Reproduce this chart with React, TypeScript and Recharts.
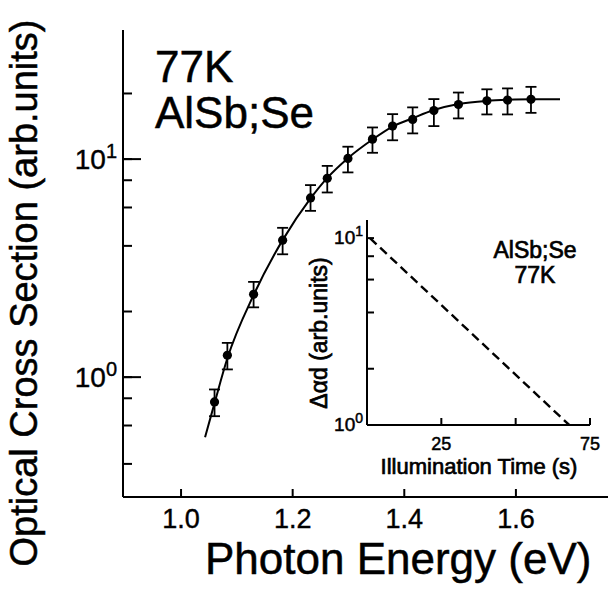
import React from 'react';
import { ComposedChart, Line, Scatter, XAxis, YAxis, ErrorBar, Customized } from 'recharts';

if (typeof document !== 'undefined') {
  document.body.style.margin = '0';
  document.body.style.overflow = 'hidden';
}

const FONT = '"Liberation Sans", Arial, Helvetica, sans-serif';

// Main plot: measured points (photon energy, eV / optical cross section, arb. units)
const energy = [1.06, 1.083, 1.13, 1.182, 1.232, 1.262, 1.299, 1.343, 1.379, 1.415, 1.453, 1.497, 1.548, 1.585, 1.627];
const cross = [0.77, 1.26, 2.4, 4.25, 6.64, 8.16, 10.07, 12.35, 14.17, 15.2, 16.7, 17.8, 18.5, 18.65, 18.8];
const crossLow = [0.662, 1.085, 2.09, 3.66, 5.79, 7.03, 8.69, 10.69, 12.2, 13.12, 14.17, 15.37, 16.03, 16.03, 16.3];
const crossHigh = [0.878, 1.436, 2.735, 4.84, 7.6, 9.31, 11.4, 13.97, 16.08, 17.27, 18.85, 20.2, 20.9, 21.1, 21.45];

// Main plot: fitted curve
const fitEnergy = [1.043, 1.06, 1.083, 1.13, 1.182, 1.232, 1.262, 1.299, 1.343, 1.379, 1.415, 1.453, 1.497, 1.548, 1.585, 1.627, 1.679];
const fitCross = [0.53, 0.76, 1.22, 2.38, 4.25, 6.6, 8.2, 10.1, 12.3, 14.1, 15.4, 16.8, 17.9, 18.5, 18.7, 18.8, 18.8];

const xDomain = [0.896, 1.765];
const yDomain = [0.282, 39.1];
const xTicks = [1.0, 1.2, 1.4, 1.6];
const yTicks = [0.4, 0.6, 0.8, 1, 2, 4, 6, 8, 10, 20];
const yMajor = [1, 10];

// Inset: decay of signal vs illumination time
const insetTime = [1, 68];
const insetSignal = [10, 1];
const insetXDomain = [0, 75];
const insetYDomain = [1, 12.5];
const insetXTicks = [25, 50, 75];
const insetXLabels = [25, 75];
const insetYTicks = [1, 2, 4, 6, 8, 10];
const insetYMajor = [1, 10];

const points = energy.map((e, i) => ({
  e,
  v: cross[i],
  err: [cross[i] - crossLow[i], crossHigh[i] - cross[i]],
}));
const fit = fitEnergy.map((e, i) => ({ e, v: fitCross[i] }));
const inset = insetTime.map((t, i) => ({ t, v: insetSignal[i] }));

const TICK_LINE = { stroke: '#000', strokeWidth: 2 };

const MainXTick = (props: any) => {
  const { x, y, payload } = props;
  return (
    <text x={x} y={y + 39} textAnchor="middle" fontSize={27} fontFamily={FONT} fill="#000" stroke="#000" strokeWidth={0.4}>
      {Number(payload.value).toFixed(1)}
    </text>
  );
};

const MainYTick = (props: any) => {
  const { x, y, payload } = props;
  const v = payload.value;
  const major = yMajor.includes(v);
  if (!major) return <g />;
  return (
    <g>
      <path d={`M${x - 9},${y}H${x + 9}`} stroke="#000" strokeWidth={2} fill="none" />
      <text x={x - 15} y={y + 10} textAnchor="end" fontSize={28} fontFamily={FONT} fill="#000" stroke="#000" strokeWidth={0.4}>
        10
        <tspan dy={-11} fontSize={20}>
          {String(Math.round(Math.log10(v)))}
        </tspan>
      </text>
    </g>
  );
};

const InsetXTick = (props: any) => {
  const { x, y, payload } = props;
  const v = payload.value;
  if (!insetXLabels.includes(v)) return <g />;
  return (
    <text x={x} y={y + 32} textAnchor="middle" fontSize={18} fontFamily={FONT} fill="#000" stroke="#000" strokeWidth={0.5}>
      {String(v)}
    </text>
  );
};

const InsetYTick = (props: any) => {
  const { x, y, payload } = props;
  const v = payload.value;
  if (!insetYMajor.includes(v)) return <g />;
  return (
    <text x={x - 11} y={y + 6} textAnchor="end" fontSize={19} fontFamily={FONT} fill="#000" stroke="#000" strokeWidth={0.5}>
      10
      <tspan dy={-8} fontSize={14}>
        {String(Math.round(Math.log10(v)))}
      </tspan>
    </text>
  );
};

const MainText = () => (
  <g fontFamily={FONT} fill="#000" stroke="#000" strokeWidth={0.5}>
    <text x={155} y={82} fontSize={44}>77K</text>
    <text x={155} y={128} fontSize={44}>AlSb;Se</text>
    <text x={205} y={574} fontSize={44}>Photon Energy (eV)</text>
    <text x={37} y={293} fontSize={38} textAnchor="middle" transform="rotate(-90 37 293)">
      Optical Cross Section (arb.units)
    </text>
  </g>
);

const InsetText = () => (
  <g fontFamily={FONT} fill="#000" stroke="#000" strokeWidth={0.7}>
    <text x={245} y={58} fontSize={23} textAnchor="middle">AlSb;Se</text>
    <text x={245} y={83} fontSize={23} textAnchor="middle">77K</text>
    <text x={189} y={274} fontSize={22} textAnchor="middle">Illumination Time (s)</text>
    <text x={37} y={133} fontSize={23} textAnchor="middle" transform="rotate(-90 37 133)">
      Δαd (arb.units)
    </text>
  </g>
);

export default function App() {
  return (
    <div style={{ position: 'relative', width: 608, height: 593, background: '#fff' }}>
      <ComposedChart width={608} height={593} margin={{ top: 30, right: 0, left: 0, bottom: 0 }}>
        <XAxis
          dataKey="e"
          type="number"
          domain={xDomain}
          ticks={xTicks}
          interval={0}
          allowDataOverflow
          height={96}
          tickSize={-8}
          tickMargin={0}
          tickLine={TICK_LINE}
          tick={(p: any) => <MainXTick {...p} />}
          axisLine={{ stroke: '#000', strokeWidth: 2 }}
        />
        <XAxis
          xAxisId="top"
          orientation="top"
          type="number"
          domain={xDomain}
          allowDataOverflow
          height={0}
          tick={false}
          tickLine={false}
          axisLine={{ stroke: '#000', strokeWidth: 2 }}
        />
        <YAxis
          dataKey="v"
          type="number"
          scale="log"
          domain={yDomain}
          ticks={yTicks}
          interval={0}
          allowDataOverflow
          width={123}
          tickSize={-9}
          tickMargin={0}
          tickLine={TICK_LINE}
          tick={(p: any) => <MainYTick {...p} />}
          axisLine={{ stroke: '#000', strokeWidth: 2 }}
        />
        <Line
          data={fit}
          dataKey="v"
          type="monotone"
          stroke="#000"
          strokeWidth={2}
          dot={false}
          activeDot={false}
          isAnimationActive={false}
        />
        <Scatter
          data={points}
          dataKey="v"
          isAnimationActive={false}
          shape={(p: any) => <circle cx={p.cx} cy={p.cy} r={4.6} fill="#000" />}
        >
          <ErrorBar dataKey="err" direction="y" width={5.5} stroke="#000" strokeWidth={1.8} isAnimationActive={false} />
        </Scatter>
        <Customized component={MainText} />
      </ComposedChart>

      <div style={{ position: 'absolute', left: 290, top: 200 }}>
        <ComposedChart width={318} height={290} margin={{ top: 20, right: 18, left: 0, bottom: 0 }}>
          <XAxis
            dataKey="t"
            type="number"
            domain={insetXDomain}
            ticks={insetXTicks}
            interval={0}
            allowDataOverflow
            height={65}
            tickSize={-7}
            tickMargin={0}
            tickLine={TICK_LINE}
            tick={(p: any) => <InsetXTick {...p} />}
            axisLine={{ stroke: '#000', strokeWidth: 2 }}
          />
          <XAxis
            xAxisId="top"
            orientation="top"
            type="number"
            domain={insetXDomain}
            allowDataOverflow
            height={0}
            tick={false}
            tickLine={false}
            axisLine={{ stroke: '#000', strokeWidth: 2 }}
          />
          <YAxis
            dataKey="v"
            type="number"
            scale="log"
            domain={insetYDomain}
            ticks={insetYTicks}
            interval={0}
            allowDataOverflow
            width={77}
            tickSize={-7}
            tickMargin={0}
            tickLine={TICK_LINE}
            tick={(p: any) => <InsetYTick {...p} />}
            axisLine={{ stroke: '#000', strokeWidth: 2 }}
          />
          <YAxis
            yAxisId="right"
            orientation="right"
            type="number"
            domain={[0, 1]}
            allowDataOverflow
            width={0}
            tick={false}
            tickLine={false}
            axisLine={{ stroke: '#000', strokeWidth: 2 }}
          />
          <Line
            data={inset}
            dataKey="v"
            type="linear"
            stroke="#000"
            strokeWidth={2.4}
            strokeDasharray="9 5"
            dot={false}
            activeDot={false}
            isAnimationActive={false}
          />
          <Customized component={InsetText} />
        </ComposedChart>
      </div>
    </div>
  );
}
